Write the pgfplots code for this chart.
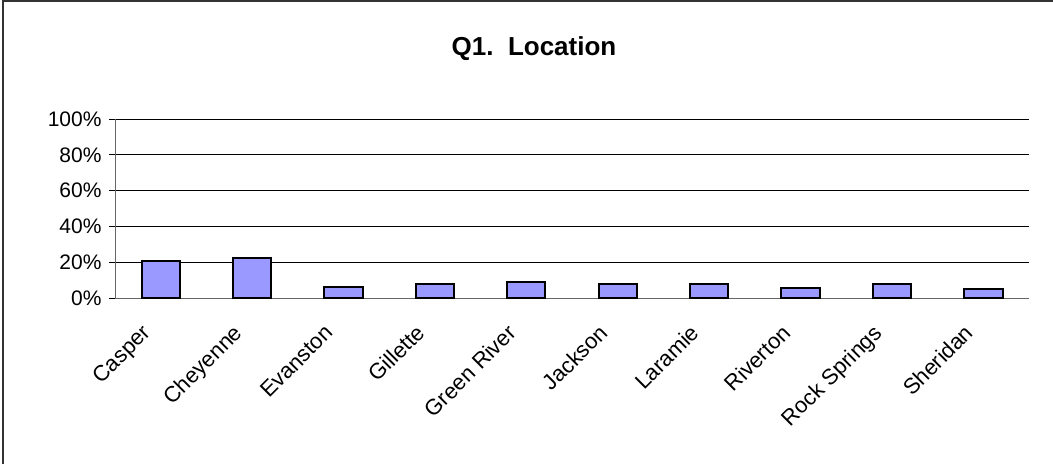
\documentclass[border=0pt]{standalone}
\usepackage{pgfplots}
\pgfplotsset{compat=1.18}
\usepackage{fontspec}
\setmainfont{Liberation Sans}
\definecolor{barblue}{HTML}{9999FF}
\begin{document}
\begin{tikzpicture}[x=1pt,y=1pt]
\path[use as bounding box] (0,0) rectangle (1053,464);
\draw[line width=2pt,black!80] (2.5,0) -- (2.5,462.5) -- (1053,462.5);
\node[anchor=base,font=\fontsize{26}{30}\selectfont\bfseries] at (534,408) {Q1.\ \ Location};
\begin{axis}[
  at={(115pt,166pt)}, anchor=south west,
  scale only axis, width=914pt, height=179pt,
  xmin=-0.5, xmax=9.5, ymin=0, ymax=100,
  axis lines*=left,
  axis line style={black!60, line width=1pt},
  ytick={0,20,...,100},
  yticklabel={\pgfmathprintnumber{\tick}\%},
  /pgf/number format/assume math mode=true,
  ymajorgrids, grid style={black, line width=1pt},
  xtick={0,...,9},
  xticklabels={Casper,Cheyenne,Evanston,Gillette,Green River,Jackson,Laramie,Riverton,Rock Springs,Sheridan},
  minor xtick={-0.5,0.5,...,9.5},
  major tick length=6pt, minor tick length=6pt,
  tick align=outside,
  xtick style={draw=none},
  minor x tick style={black, line width=1pt},
  ytick style={black, line width=1pt},
  x tick label style={xshift=-20pt, yshift=-19pt, rotate=45, anchor=north east, inner sep=0pt, font=\fontsize{22}{26}\selectfont},
  y tick label style={font=\fontsize{21}{25}\selectfont, xshift=-4pt},
  ybar, bar width=0.42, bar shift=0pt,
  clip=false,
]
\addplot[fill=barblue, draw=black, line width=2pt] coordinates {
(0,20.9) (1,22.6) (2,6.0) (3,7.7) (4,9.0) (5,7.7) (6,8.0) (7,5.4) (8,8.0) (9,4.9)
};
\end{axis}
\end{tikzpicture}
\end{document}
